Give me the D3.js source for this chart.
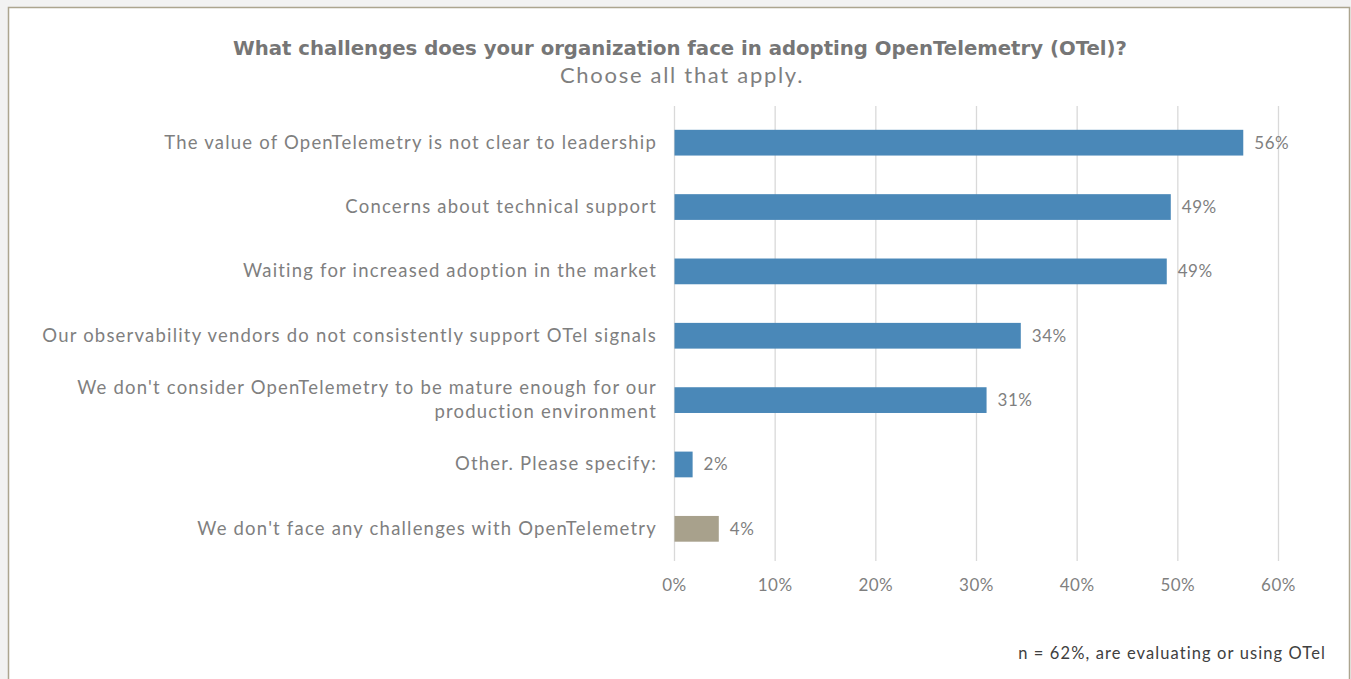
<!DOCTYPE html>
<html>
<head>
<meta charset="utf-8">
<script src="https://cdn.jsdelivr.net/npm/d3@7"></script>
<style>
  body { margin: 0; background: #f2f2f2; }
  svg { display: block; }
</style>
</head>
<body>
<svg id="chart" width="1351" height="679"></svg>
<script>
const categories = [
  "The value of OpenTelemetry is not clear to leadership",
  "Concerns about technical support",
  "Waiting for increased adoption in the market",
  "Our observability vendors do not consistently support OTel signals",
  "We don't consider OpenTelemetry to be mature enough for our|production environment",
  "Other. Please specify:",
  "We don't face any challenges with OpenTelemetry"
];
const values = [56.5, 49.3, 48.9, 34.4, 31.0, 1.8, 4.4];
const valueLabels = ["56%", "49%", "49%", "34%", "31%", "2%", "4%"];
const barColors = ["#4a88b8", "#4a88b8", "#4a88b8", "#4a88b8", "#4a88b8", "#4a88b8", "#a8a18c"];
const xTicks = [0, 10, 20, 30, 40, 50, 60];

const svg = d3.select("#chart");
const labelFont = "Lato, 'Open Sans', sans-serif";

// panel
svg.append("rect")
  .attr("x", 8.5).attr("y", 7.5).attr("width", 1341).attr("height", 700)
  .style("fill", "white").style("stroke", "#aca58f").style("stroke-width", 1.5);

const x = d3.scaleLinear().domain([0, 60]).range([674.5, 1278.5]);
const y = d3.scaleBand().domain(categories).range([110.5, 561])
  .paddingInner(0.6).paddingOuter(0.3);

// gridlines
svg.append("g").selectAll("line")
  .data(xTicks)
  .join("line")
  .attr("x1", d => x(d)).attr("x2", d => x(d))
  .attr("y1", 106).attr("y2", 561)
  .style("stroke", "#d9d9d9").style("stroke-width", 1.3);

// x tick labels
svg.append("g").selectAll("text")
  .data(xTicks)
  .join("text")
  .attr("x", d => x(d)).attr("y", 591)
  .attr("text-anchor", "middle")
  .style("font-family", labelFont).style("font-size", "17px").style("fill", "#7f7f7f")
  .style("letter-spacing", "0.5px")
  .text(d => d + "%");

// bars
svg.append("g").selectAll("rect")
  .data(values)
  .join("rect")
  .attr("x", x(0))
  .attr("y", (d, i) => y(categories[i]))
  .attr("width", d => x(d) - x(0))
  .attr("height", y.bandwidth())
  .style("fill", (d, i) => barColors[i]);

// value labels
svg.append("g").selectAll("text")
  .data(values)
  .join("text")
  .attr("x", d => x(d) + 11)
  .attr("y", (d, i) => y(categories[i]) + y.bandwidth() / 2 + 6)
  .style("font-family", labelFont).style("font-size", "17px").style("fill", "#7f7f7f")
  .style("letter-spacing", "0.5px")
  .text((d, i) => valueLabels[i]);

// category labels
categories.forEach(function(c) {
  const lines = c.split("|");
  const cy = y(c) + y.bandwidth() / 2;
  const t = svg.append("text")
    .attr("text-anchor", "end")
    .style("font-family", labelFont).style("font-size", "18.5px").style("fill", "#7f7f7f")
    .style("letter-spacing", "1.2px");
  lines.forEach(function(l, j) {
    t.append("tspan")
      .attr("x", 657)
      .attr("y", cy + 6 + (j - (lines.length - 1) / 2) * 24)
      .text(l);
  });
});

// titles
svg.append("text").text("What challenges does your organization face in adopting OpenTelemetry (OTel)?")
  .attr("x", 680).attr("y", 55).attr("text-anchor", "middle")
  .style("font-family", "'DejaVu Sans', sans-serif").style("font-weight", "bold")
  .style("font-size", "19.7px").style("fill", "#767676");
svg.append("text").text("Choose all that apply.")
  .attr("x", 682).attr("y", 83).attr("text-anchor", "middle")
  .style("font-family", labelFont).style("font-size", "22px").style("fill", "#7f7f7f")
  .style("letter-spacing", "1.7px");

// note
svg.append("text").text("n = 62%, are evaluating or using OTel")
  .attr("x", 1326).attr("y", 659).attr("text-anchor", "end")
  .style("font-family", labelFont).style("font-size", "16.5px").style("fill", "#404040")
  .style("letter-spacing", "1.1px");
</script>
</body>
</html>
